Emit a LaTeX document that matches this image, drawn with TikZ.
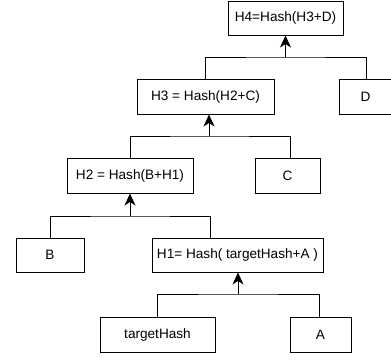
\documentclass[tikz,border=0pt]{standalone}
\usepackage{fontspec}
\setmainfont{Liberation Sans}
\usetikzlibrary{arrows.meta}
\begin{document}
\begin{tikzpicture}[x=1pt,y=-1pt,
  box/.style={draw=black, line width=1pt, fill=white, inner sep=0pt, font=\fontsize{13.6}{16}\selectfont},
  link/.style={draw=black, line width=1pt},
  up/.style={link, -{Stealth[length=12pt,width=11pt,inset=3.5pt]}}]
\useasboundingbox (0,0) rectangle (391,360);
\node[box, minimum width=115pt, minimum height=34pt] (H4) at (285.5,18) {H4=Hash(H3+D)};
\node[box, minimum width=137pt, minimum height=35pt] (H3) at (205.5,96.5) {H3 = Hash(H2+C)};
\node[box, minimum width=52pt, minimum height=35pt, anchor=north west] (D) at (339,79) {D};
\node[box, minimum width=126pt, minimum height=35pt] (H2) at (130,175.5) {H2 = Hash(B+H1)};
\node[box, minimum width=65pt, minimum height=35pt] (C) at (287.5,175.5) {C};
\node[box, minimum width=68pt, minimum height=34pt] (B) at (50,255) {B};
\node[box, minimum width=171pt, minimum height=34pt] (H1) at (237.5,255) {H1= Hash( targetHash+A )};
\node[box, minimum width=115pt, minimum height=35pt] (T) at (157.5,334.5) {targetHash};
\node[box, minimum width=61pt, minimum height=35pt] (A) at (320.5,334.5) {A};
% level 4
\coordinate (j4) at (285.5,57);
\draw[link] (H3.north) |- (j4) -| ([xshift=1pt]D.north);
\draw[up] (j4) -- (H4.south);
% level 3
\coordinate (j3) at (209,136);
\draw[link] (H2.north) |- (j3) -| ([xshift=2.5pt]C.north);
\draw[up] (j3) -- (H3.south -| j3);
% level 2
\coordinate (j2) at (130,216);
\draw[link] (B.north) |- (j2) -| ([xshift=-27.5pt]H1.north);
\draw[up] (j2) -- (H2.south);
% level 1
\coordinate (j1) at (238,294);
\draw[link] (T.north) |- (j1) -| ([xshift=-1.5pt]A.north);
\draw[up] (j1) -- (H1.south -| j1);
\end{tikzpicture}
\end{document}
